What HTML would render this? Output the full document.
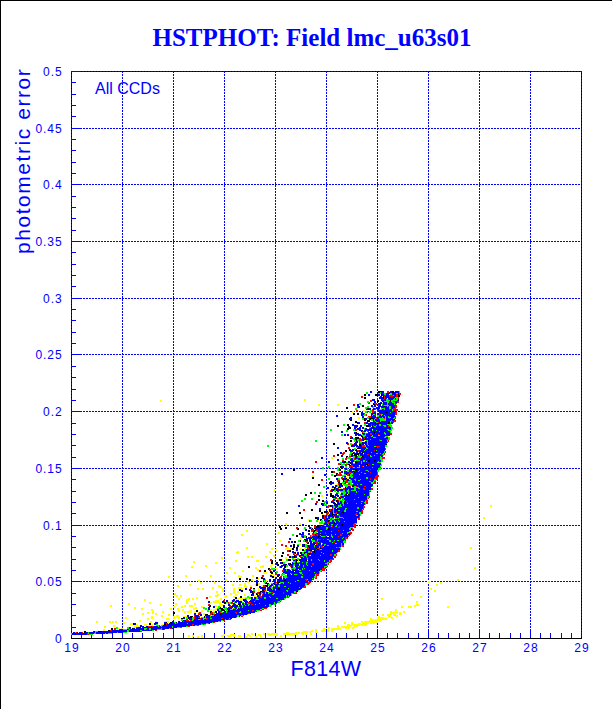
<!DOCTYPE html>
<html><head><meta charset="utf-8"><title>HSTPHOT</title>
<style>
html,body{margin:0;padding:0;background:#fff}
body{width:612px;height:709px;position:relative;overflow:hidden;font-family:"Liberation Sans",sans-serif;color:#00f}
.bt{position:absolute;left:0;top:0;width:612px;height:1px;background:#000}
.bl{position:absolute;left:0;top:0;width:1px;height:709px;background:#000}
.title{position:absolute;left:0;top:24px;width:624px;text-align:center;font-family:"Liberation Serif",serif;font-weight:bold;font-size:25px;line-height:28px;white-space:nowrap}
.yl{position:absolute;left:0;width:62.5px;text-align:right;font-size:12px;line-height:14px;letter-spacing:0.9px}
.xl{position:absolute;top:641px;width:42px;text-align:center;font-size:12px;line-height:14px;letter-spacing:1.2px}
.xt{position:absolute;left:226px;width:200px;top:657px;text-align:center;font-size:21.5px;letter-spacing:0.3px;line-height:24px}
.yt{position:absolute;left:0;top:0;transform-origin:0 0;transform:translate(10.5px,254px) rotate(-90deg);font-size:21px;line-height:24px;white-space:nowrap;letter-spacing:1.55px}
.all{position:absolute;left:95px;top:79px;font-size:16px;line-height:20px;white-space:nowrap}
</style></head><body>
<svg width="612" height="709" viewBox="0 0 612 709" shape-rendering="crispEdges" style="position:absolute;left:0;top:0"><path d="M122.5 71V639M173.5 71V639M224.5 71V639M275.5 71V639M326.5 71V639M377.5 71V639M428.5 71V639M479.5 71V639M530.5 71V639M71 128.5H582M71 184.5H582M71 241.5H582M71 298.5H582M71 354.5H582M71 411.5H582M71 468.5H582M71 525.5H582M71 581.5H582" stroke="#00f" stroke-width="1" stroke-dasharray="2 1" fill="none"/><path d="M71.5 639V71.5H581.5V639" stroke="#00f" fill="none"/><path d="M81 71.5H581" stroke="#000" stroke-dasharray="1 2" fill="none"/><path d="M71.5 73V638" stroke="#000" stroke-dasharray="1 2" fill="none"/><path d="M581.5 73V638" stroke="#000" stroke-dasharray="1 2" fill="none"/><path d="M81.5 639v-6M91.5 639v-6M102.5 639v-6M112.5 639v-6M122.5 639v-10M132.5 639v-6M142.5 639v-6M153.5 639v-6M163.5 639v-6M173.5 639v-10M183.5 639v-6M193.5 639v-6M204.5 639v-6M214.5 639v-6M224.5 639v-10M234.5 639v-6M244.5 639v-6M255.5 639v-6M265.5 639v-6M275.5 639v-10M285.5 639v-6M295.5 639v-6M306.5 639v-6M316.5 639v-6M326.5 639v-10M336.5 639v-6M346.5 639v-6M357.5 639v-6M367.5 639v-6M377.5 639v-10M387.5 639v-6M397.5 639v-6M408.5 639v-6M418.5 639v-6M428.5 639v-10M438.5 639v-6M448.5 639v-6M459.5 639v-6M469.5 639v-6M479.5 639v-10M489.5 639v-6M499.5 639v-6M510.5 639v-6M520.5 639v-6M530.5 639v-10M540.5 639v-6M550.5 639v-6M561.5 639v-6M571.5 639v-6M71 627.5h5M71 615.5h5M71 604.5h5M71 593.5h5M71 581.5h10M71 570.5h5M71 559.5h5M71 547.5h5M71 536.5h5M71 525.5h10M71 513.5h5M71 502.5h5M71 491.5h5M71 479.5h5M71 468.5h10M71 457.5h5M71 445.5h5M71 434.5h5M71 423.5h5M71 411.5h10M71 400.5h5M71 389.5h5M71 377.5h5M71 366.5h5M71 354.5h10M71 343.5h5M71 332.5h5M71 320.5h5M71 309.5h5M71 298.5h10M71 286.5h5M71 275.5h5M71 264.5h5M71 252.5h5M71 241.5h10M71 230.5h5M71 218.5h5M71 207.5h5M71 196.5h5M71 184.5h10M71 173.5h5M71 162.5h5M71 150.5h5M71 139.5h5M71 128.5h10M71 116.5h5M71 105.5h5M71 94.5h5M71 82.5h5" stroke="#00f" fill="none"/><path d="M71 638.5H582" stroke="#000" fill="none"/><g fill="none" stroke-width="1" transform="translate(0,0.5)" shape-rendering="crispEdges"><path stroke="#ff0" d="M399 397h1M304 399h2M160 400h2M304 400h2M160 401h2M318 404h2M337 404h2M396 404h1M318 405h2M337 405h2M363 410h2M352 411h2M363 411h2M352 412h2M358 417h2M358 418h2M361 434h1M388 436h1M364 440h1M387 445h1M387 446h1M385 447h1M359 449h2M352 452h1M331 457h2M331 458h2M359 465h1M327 466h1M327 467h1M312 475h2M312 476h2M346 476h1M346 477h3M347 478h2M341 479h1M337 483h1M346 483h1M336 484h2M342 484h1M343 485h1M331 487h1M331 488h2M340 488h2M274 489h2M274 490h2M329 491h1M329 492h2M321 495h2M321 496h2M334 501h1M490 505h2M490 506h2M327 509h2M327 510h2M322 514h2M328 514h1M327 517h1M483 517h2M483 518h2M308 519h2M323 519h1M308 520h1M318 520h1M285 523h2M299 523h2M285 524h2M299 524h2M319 524h2M353 527h1M303 528h1M303 529h2M246 530h2M246 531h2M278 532h2M278 533h2M241 534h2M241 535h2M300 537h2M300 538h2M279 540h2M279 541h2M266 543h2M299 543h2M266 544h2M299 544h2M246 547h2M287 547h2M304 547h1M470 547h2M246 548h2M271 548h2M285 548h4M290 548h2M299 548h2M304 548h2M470 548h2M271 549h2M275 549h2M285 549h2M290 549h2M299 549h2M275 550h2M295 550h1M313 550h1M237 551h2M269 551h2M295 551h4M236 552h3M269 552h2M236 553h2M292 553h1M273 555h2M310 555h1M247 556h2M251 556h2M265 556h2M273 556h2M221 557h2M247 557h2M251 557h2M265 557h2M285 557h2M221 558h2M285 558h2M294 558h2M282 559h1M235 560h2M256 560h3M282 560h1M298 560h1M193 561h2M235 561h2M256 561h3M284 561h2M297 561h2M193 562h2M215 562h2M285 562h1M215 563h2M271 564h2M205 565h2M262 565h2M270 565h2M288 565h1M191 566h2M205 566h2M260 566h4M270 566h2M191 567h2M229 567h2M255 567h2M260 567h4M271 567h2M474 567h2M229 568h2M255 568h2M276 568h2M474 568h2M257 569h2M276 569h2M242 570h2M257 570h2M242 571h2M272 571h1M226 572h2M234 572h2M263 572h4M226 573h2M234 573h2M263 573h4M270 574h4M291 574h1M185 575h2M210 575h2M238 575h2M252 575h2M261 575h1M272 575h4M168 576h2M185 576h2M210 576h2M238 576h4M252 576h2M261 576h1M274 576h2M168 577h2M239 577h3M271 577h1M258 578h1M225 579h2M251 579h2M256 579h3M457 579h2M198 580h2M225 580h2M251 580h2M266 580h1M457 580h2M198 581h2M247 581h2M266 581h1M276 581h1M428 581h2M200 582h2M214 582h2M247 582h2M263 582h1M273 582h1M428 582h2M440 582h2M200 583h2M214 583h2M244 583h2M258 583h2M263 583h2M440 583h2M189 584h2M232 584h2M239 584h2M244 584h2M255 584h1M258 584h2M436 584h2M177 585h2M189 585h2M218 585h2M232 585h2M239 585h2M244 585h2M250 585h2M255 585h1M261 585h2M436 585h2M177 586h2M218 586h4M244 586h3M250 586h2M261 586h2M212 587h2M220 587h2M238 587h4M245 587h2M197 588h2M202 588h2M212 588h2M222 588h2M233 588h2M238 588h5M258 588h2M430 588h2M197 589h2M202 589h2M222 589h2M233 589h2M241 589h2M258 589h2M266 589h1M275 589h1M430 589h2M222 590h2M233 590h2M258 590h2M266 590h1M434 590h2M216 591h2M222 591h2M233 591h2M237 591h2M258 591h2M434 591h2M216 592h2M233 592h2M237 592h2M174 593h2M230 593h2M233 593h2M174 594h2M217 594h2M230 594h2M235 594h2M244 594h2M258 594h1M261 594h1M411 594h2M176 595h2M180 595h2M215 595h4M225 595h2M235 595h2M244 595h2M254 595h2M411 595h2M176 596h2M180 596h2M209 596h2M215 596h3M224 596h3M233 596h2M254 596h3M420 596h2M196 597h2M209 597h2M224 597h2M233 597h2M239 597h1M244 597h3M420 597h2M178 598h2M188 598h2M192 598h2M196 598h2M220 598h2M237 598h8M247 598h2M253 598h1M381 598h2M144 599h2M178 599h2M186 599h4M192 599h2M220 599h2M235 599h4M241 599h2M248 599h2M381 599h2M144 600h2M186 600h3M215 600h4M231 600h1M235 600h1M240 600h2M186 601h2M213 601h7M231 601h1M416 601h2M149 602h2M186 602h2M210 602h2M213 602h4M218 602h3M416 602h2M128 603h2M149 603h2M175 603h2M186 603h2M194 603h2M210 603h2M219 603h2M226 603h2M235 603h2M128 604h2M160 604h2M175 604h2M194 604h2M219 604h4M232 604h1M236 604h2M241 604h1M416 604h3M110 605h2M160 605h2M184 605h2M189 605h4M214 605h3M219 605h4M414 605h5M110 606h2M173 606h2M181 606h2M184 606h2M189 606h4M201 606h2M215 606h2M220 606h1M401 606h2M408 606h4M414 606h2M447 606h2M134 607h2M173 607h2M181 607h2M195 607h2M201 607h2M205 607h1M401 607h2M408 607h4M447 607h2M134 608h2M141 608h2M170 608h2M177 608h2M193 608h4M215 608h2M223 608h1M232 608h1M237 608h1M141 609h2M151 609h2M170 609h2M177 609h2M182 609h2M193 609h2M207 609h1M210 609h2M213 609h4M395 609h2M151 610h3M178 610h2M182 610h2M189 610h3M201 610h2M210 610h2M213 610h3M225 610h1M395 610h2M152 611h2M162 611h2M178 611h2M184 611h2M187 611h5M194 611h2M201 611h2M213 611h2M222 611h2M390 611h2M394 611h2M403 611h2M147 612h2M152 612h2M162 612h2M184 612h2M187 612h2M190 612h2M194 612h2M198 612h1M201 612h1M390 612h8M399 612h2M403 612h2M142 613h2M147 613h2M152 613h2M155 613h2M184 613h2M201 613h1M203 613h2M390 613h4M396 613h2M399 613h3M142 614h2M155 614h2M168 614h2M203 614h2M248 614h1M382 614h2M387 614h5M393 614h3M399 614h3M161 615h2M168 615h2M176 615h3M199 615h1M211 615h1M382 615h2M387 615h4M393 615h5M151 616h2M161 616h2M173 616h2M176 616h3M183 616h4M189 616h1M200 616h1M378 616h2M388 616h3M396 616h2M125 617h2M151 617h2M173 617h2M178 617h2M185 617h1M377 617h7M388 617h2M391 617h2M125 618h2M147 618h2M151 618h2M166 618h4M173 618h2M178 618h2M185 618h1M370 618h2M377 618h10M391 618h2M147 619h2M166 619h4M184 619h2M188 619h1M370 619h4M375 619h12M139 620h2M189 620h1M369 620h13M96 621h2M109 621h2M112 621h2M115 621h2M139 621h2M150 621h2M155 621h2M164 621h5M180 621h2M361 621h2M364 621h14M379 621h2M96 622h2M109 622h2M112 622h2M115 622h2M123 622h2M150 622h2M167 622h2M177 622h1M215 622h1M344 622h2M351 622h2M361 622h17M123 623h2M130 623h3M168 623h1M344 623h2M351 623h2M358 623h3M362 623h7M370 623h5M130 624h3M136 624h2M144 624h3M151 624h2M162 624h2M347 624h3M351 624h2M354 624h13M113 625h2M134 625h4M139 625h1M144 625h3M150 625h3M337 625h2M347 625h6M354 625h6M361 625h6M104 626h2M113 626h2M134 626h6M145 626h1M337 626h2M341 626h10M353 626h2M356 626h2M104 627h2M132 627h4M328 627h2M337 627h3M341 627h9M352 627h3M118 628h2M121 628h2M135 628h1M323 628h2M328 628h2M331 628h10M345 628h2M348 628h2M352 628h2M103 629h2M117 629h2M315 629h2M323 629h3M327 629h2M331 629h10M103 630h2M311 630h2M315 630h2M321 630h5M327 630h2M331 630h2M303 631h5M309 631h4M315 631h3M321 631h5M327 631h2M331 631h2M286 632h3M295 632h2M298 632h2M301 632h7M309 632h2M315 632h3M251 633h2M263 633h2M267 633h3M271 633h7M283 633h14M298 633h2M301 633h3M305 633h2M310 633h2M223 634h2M230 634h5M247 634h2M251 634h2M258 634h3M263 634h2M267 634h11M283 634h14M302 634h2M305 634h2M310 634h2M188 635h2M192 635h2M201 635h2M221 635h4M227 635h8M238 635h3M247 635h4M258 635h3M268 635h4M275 635h3M280 635h2M188 636h2M192 636h2M197 636h2M201 636h2M221 636h2M227 636h4M233 636h2M238 636h3M245 636h2M249 636h2M255 636h2M260 636h2M280 636h2M197 637h2M201 637h2M245 637h2M255 637h2M260 637h2"/><path stroke="#000" d="M378 391h4M392 391h2M378 392h2M389 392h1M392 392h2M388 393h2M398 393h1M364 394h2M375 394h3M381 394h1M398 394h1M364 395h2M375 395h3M381 395h1M398 395h2M383 396h1M398 396h2M364 397h2M383 397h1M364 398h2M383 398h1M377 400h2M390 400h1M377 401h2M373 403h1M373 404h2M380 404h1M362 405h2M362 406h2M384 406h1M346 407h2M346 408h2M367 408h2M366 409h3M395 410h1M385 412h2M353 413h2M357 413h2M373 413h1M353 414h2M357 414h2M375 414h1M383 414h1M371 415h1M380 415h1M350 417h2M351 418h1M364 418h1M369 418h4M351 419h1M364 419h1M369 419h2M373 419h1M394 419h1M350 420h2M364 420h2M367 420h3M373 420h1M355 421h2M367 421h3M355 422h3M375 422h1M388 422h2M357 423h1M374 423h2M388 423h2M347 424h2M337 425h2M347 425h2M366 425h3M372 425h1M337 426h2M348 426h2M366 426h3M372 426h1M348 427h3M347 428h4M347 429h2M367 429h1M361 430h2M371 430h1M361 431h1M356 432h1M374 432h1M356 433h1M362 433h1M374 433h1M358 435h1M361 435h1M361 436h2M355 437h4M362 437h1M372 437h1M350 438h1M355 438h4M365 438h1M355 439h2M364 439h2M350 440h2M356 440h1M363 440h1M350 441h2M362 442h1M333 443h2M333 444h2M356 444h1M359 444h2M386 444h1M355 445h1M359 445h2M369 447h1M357 448h3M349 449h2M356 449h1M361 449h1M364 449h1M345 450h2M349 450h1M355 450h2M345 451h2M362 452h1M352 453h1M355 453h4M361 453h2M370 453h1M337 454h2M351 454h2M354 454h5M337 455h2M354 455h3M346 456h2M355 456h2M362 456h1M346 457h1M368 460h2M374 460h2M344 461h2M355 461h2M368 461h2M374 461h1M344 462h2M350 462h1M355 462h2M350 463h1M340 464h1M348 464h2M365 464h3M349 465h2M365 465h1M340 466h2M340 467h2M351 467h1M341 468h2M357 468h1M293 469h2M339 469h2M355 469h2M293 470h2M339 470h2M355 470h2M331 471h2M344 471h1M353 471h2M331 472h2M354 472h1M336 473h2M346 473h1M336 474h1M346 474h1M349 474h1M334 475h3M349 475h1M352 475h1M334 476h2M312 477h2M312 478h2M343 478h1M346 478h1M342 479h2M343 480h1M330 481h2M339 481h1M343 481h1M329 482h3M338 482h2M345 482h1M329 483h1M341 483h1M318 484h2M341 484h1M318 485h2M339 485h1M352 485h2M339 486h1M352 486h2M334 487h2M338 487h3M345 487h1M361 487h2M334 488h1M333 489h2M333 490h1M336 490h1M310 492h2M310 493h2M330 493h2M305 494h2M330 494h2M345 494h2M348 494h1M305 495h2M318 495h2M330 495h4M346 495h1M318 496h2M330 496h4M332 497h2M339 497h1M339 498h2M318 499h2M318 500h2M322 500h2M336 500h2M322 501h2M336 501h1M344 501h2M333 502h2M344 502h1M361 502h1M321 503h2M333 503h3M344 503h1M321 504h1M336 504h1M330 505h1M330 506h1M332 507h1M337 508h1M311 509h2M329 509h1M336 509h2M340 509h1M311 510h2M319 510h2M329 510h1M319 511h2M324 511h4M329 511h2M286 512h2M299 512h2M321 512h2M324 512h3M332 512h1M341 512h3M286 513h2M299 513h2M321 513h2M332 513h1M332 514h2M336 514h1M322 515h2M332 515h1M322 516h2M301 517h2M315 517h2M301 518h2M315 518h2M320 519h2M337 519h2M320 520h1M328 520h2M328 521h1M334 522h1M334 523h1M327 524h1M341 524h2M308 525h2M317 525h2M321 525h1M341 525h2M279 526h2M308 526h2M316 526h3M279 527h2M285 527h2M316 527h4M280 528h2M285 528h2M298 528h1M312 528h1M314 528h1M319 528h1M328 528h2M280 529h2M297 529h2M311 529h1M320 529h2M328 529h2M308 530h2M314 530h2M308 531h2M313 531h2M313 532h1M301 534h1M315 534h1M320 534h1M296 535h2M296 536h2M306 536h1M318 536h1M306 537h1M326 537h1M313 538h1M304 539h2M309 539h2M312 539h2M324 539h1M300 540h1M305 540h3M294 541h2M300 541h1M305 541h1M294 542h2M308 542h1M307 543h2M315 543h1M293 544h2M304 544h1M314 544h1M293 545h2M307 545h2M293 546h2M302 546h1M308 546h1M293 547h2M296 547h2M309 547h1M292 548h2M296 548h2M316 548h1M320 548h1M292 549h2M302 549h2M317 549h2M289 550h2M302 550h2M309 550h3M314 550h1M289 551h2M314 551h1M282 552h2M294 552h2M300 552h2M304 552h2M314 552h1M282 553h2M295 553h1M300 553h2M304 553h1M308 553h2M309 554h1M281 555h2M294 555h2M299 555h2M314 555h1M281 556h2M289 556h2M294 556h1M299 556h1M289 557h2M294 557h1M279 559h3M288 559h3M296 559h1M299 559h1M272 560h1M279 560h3M288 560h3M296 560h2M299 560h1M306 560h1M271 561h2M296 561h1M271 562h2M276 562h2M282 562h1M296 562h1M271 563h2M282 563h1M290 563h1M295 563h1M278 564h1M285 564h2M290 564h1M277 565h2M285 565h1M289 565h1M248 566h2M284 566h2M295 566h1M248 567h2M284 567h2M310 567h1M268 568h2M303 568h1M268 569h1M285 569h1M318 569h2M264 570h2M294 570h1M319 570h1M264 571h2M270 571h2M293 571h1M270 572h3M283 572h1M271 573h2M277 575h2M272 576h2M277 576h2M289 576h1M256 577h2M261 577h2M272 577h2M239 578h2M246 578h2M256 578h2M261 578h2M281 578h1M239 579h2M246 579h2M249 579h2M277 579h2M285 579h1M249 580h2M284 580h2M279 581h1M266 582h1M277 582h3M265 583h4M273 583h2M284 583h1M256 584h2M267 584h1M274 584h1M256 585h2M265 585h3M266 586h2M253 588h2M270 588h1M278 588h2M262 589h1M271 589h1M278 589h2M241 590h2M262 590h2M241 591h2M252 591h1M260 591h2M296 591h2M252 592h1M259 592h2M252 593h2M256 593h1M251 594h1M256 594h2M251 595h1M240 596h2M235 597h2M240 597h2M235 598h2M243 599h1M243 600h1M239 601h1M249 601h1M224 602h2M245 602h1M224 603h2M240 603h1M238 604h3M210 605h1M209 606h2M220 607h1M219 608h4M238 608h1M221 609h3M229 609h1M196 610h2M221 610h4M228 610h1M196 611h2M210 611h2M215 611h2M173 612h2M210 612h1M215 612h2M173 613h2M220 613h1M250 613h1M205 614h3M212 614h1M215 614h1M220 614h1M205 615h1M214 615h1M190 616h3M204 616h1M188 617h4M197 617h1M204 617h1M181 618h2M188 618h1M197 618h3M183 620h1M182 621h1M166 622h1M170 622h2M176 622h1M133 623h1M149 623h2M171 623h1M209 623h1M133 624h1M149 624h2M164 624h2M171 624h1M151 626h1M140 627h1M111 628h2M132 628h1M143 628h1M111 629h2M139 629h1M143 629h1M108 630h2M129 630h1M84 631h2M98 631h4M129 631h1M77 632h1M84 632h1M75 633h1M75 634h1"/><path stroke="#f00" d="M387 391h2M387 392h2M383 393h1M399 393h2M396 394h2M399 394h2M384 395h2M389 395h4M396 395h2M361 396h2M384 396h1M389 396h4M396 396h2M361 397h2M384 397h1M398 397h1M384 398h1M398 398h1M383 399h1M388 399h1M370 400h2M370 401h2M393 401h2M397 401h2M369 402h1M397 402h2M368 403h2M374 403h3M395 403h2M353 404h2M375 404h2M395 404h1M353 405h2M378 405h1M382 405h2M395 405h2M357 406h1M395 406h2M357 407h1M384 407h1M395 407h2M375 408h1M393 408h3M372 409h1M375 409h1M389 409h1M393 409h5M356 410h2M372 410h2M377 410h1M393 410h2M396 410h2M356 411h2M367 411h1M372 411h4M377 411h1M392 411h1M396 411h1M367 412h1M372 412h2M396 412h1M364 413h1M379 413h1M395 413h2M366 414h1M379 414h2M395 414h2M366 415h1M375 415h1M379 415h1M368 416h3M395 416h1M369 417h2M376 417h1M395 417h1M376 418h1M384 418h1M389 418h1M395 418h1M379 419h1M394 420h2M391 421h5M364 422h2M378 422h1M393 422h1M364 423h2M390 423h1M371 424h1M371 425h1M373 425h1M388 425h1M373 426h1M388 426h2M375 427h1M369 428h1M355 429h2M355 430h2M367 430h1M362 431h2M367 431h2M370 431h1M362 432h1M366 433h2M370 433h2M375 433h1M390 433h2M370 434h2M378 434h1M390 434h2M350 436h2M350 437h1M363 437h2M359 438h2M364 438h1M359 439h3M379 439h1M386 439h2M359 440h3M379 440h1M388 440h1M359 441h1M388 441h1M359 442h1M387 442h1M348 443h1M359 443h3M386 443h1M347 444h2M352 444h2M361 444h1M362 445h3M362 446h3M376 446h4M348 447h2M377 447h1M348 448h2M385 448h1M385 449h1M357 450h2M374 450h1M358 451h1M385 451h1M343 452h2M385 452h1M342 453h3M384 453h1M342 454h2M363 454h1M367 454h2M384 454h1M333 455h2M353 455h1M358 455h1M333 456h2M349 456h2M357 456h1M357 457h1M382 457h3M345 458h2M354 458h1M357 458h1M360 458h1M365 458h1M382 458h3M345 459h2M354 459h2M365 459h1M342 460h2M315 461h2M315 462h2M338 463h2M338 464h2M345 464h3M368 464h1M345 465h2M351 465h2M349 466h4M362 466h1M349 467h2M352 467h1M379 467h2M370 469h1M365 470h1M312 471h2M333 471h2M312 472h2M333 472h2M339 472h2M349 472h2M353 472h1M370 472h1M377 472h1M339 473h2M349 473h2M377 473h1M337 474h5M347 474h2M377 474h1M337 475h5M347 475h2M376 475h3M375 476h4M341 477h2M344 477h2M375 477h3M341 478h2M355 478h1M370 478h1M374 478h4M321 479h2M346 479h1M370 479h1M376 479h2M321 480h2M337 480h3M346 480h1M349 480h1M373 480h1M337 481h2M344 481h4M374 481h2M346 482h2M374 482h2M338 483h1M348 483h2M353 483h1M373 483h3M338 484h1M348 484h2M350 486h1M356 486h1M364 486h2M335 488h1M338 488h1M343 488h2M363 488h2M371 488h2M335 489h1M343 489h2M363 489h2M371 489h2M330 490h1M330 491h1M349 491h1M358 491h1M369 491h2M355 494h1M340 496h1M369 496h1M336 497h1M340 497h1M369 497h1M335 498h2M368 498h1M342 499h1M332 500h1M338 500h1M365 500h3M316 501h2M326 501h2M333 501h1M346 501h1M366 501h2M316 502h2M347 502h1M366 502h2M323 503h2M366 503h2M328 505h2M327 506h3M363 506h2M327 507h2M363 507h2M332 508h1M363 508h1M303 509h2M330 509h1M363 509h1M303 510h2M330 510h1M362 510h1M361 511h2M327 512h2M336 512h1M361 512h2M326 513h3M335 513h2M356 513h1M361 513h2M326 514h2M355 514h2M324 515h2M333 515h1M337 515h3M324 516h1M334 516h1M359 516h1M324 517h1M359 517h1M324 518h2M331 518h1M337 518h1M358 518h2M330 519h2M334 519h1M358 519h2M309 520h1M309 521h1M329 521h1M327 522h3M327 523h2M354 523h1M353 524h3M331 525h2M353 525h3M314 526h2M321 526h1M332 526h1M339 526h1M354 526h2M296 527h2M314 527h2M338 527h2M354 527h2M296 528h2M352 528h1M312 529h2M352 529h2M311 530h3M316 530h2M338 530h1M352 530h2M311 531h2M317 531h1M325 532h1M350 532h2M312 533h2M325 533h1M350 533h2M312 534h3M316 534h2M340 534h2M350 534h1M301 535h3M310 535h1M313 535h2M317 535h1M340 535h2M349 535h1M301 536h1M310 536h1M325 536h1M338 536h1M348 536h1M345 537h2M345 538h3M318 539h3M323 539h1M345 539h1M345 540h1M288 541h2M306 541h2M315 541h3M333 541h2M288 542h2M306 542h2M315 542h3M321 542h1M333 542h2M312 543h1M316 543h2M281 544h2M316 544h2M281 545h2M285 545h2M320 545h2M342 545h2M285 546h2M307 546h1M321 546h2M342 546h2M307 547h2M314 547h1M321 547h2M337 547h2M307 548h2M317 548h3M316 549h1M319 549h1M287 550h2M338 550h2M287 551h2M310 551h2M338 551h2M310 552h1M293 553h2M287 554h2M293 554h2M296 554h1M308 554h1M330 554h2M336 554h1M287 555h2M296 555h1M330 555h2M336 555h1M300 556h1M303 556h1M333 556h3M300 557h1M306 557h2M334 557h2M333 558h1M270 559h2M295 559h1M330 559h4M270 560h2M295 560h1M330 560h2M295 561h1M306 561h2M330 561h2M295 562h1M299 562h1M329 562h2M294 563h1M299 563h1M312 563h2M328 563h1M293 564h1M312 564h2M328 564h1M290 565h1M290 566h1M327 566h1M303 567h1M325 567h1M322 568h4M269 569h2M289 569h1M322 569h3M259 570h2M269 570h2M282 570h2M322 570h3M259 571h2M282 571h2M321 571h1M275 573h2M282 573h1M291 573h1M316 573h1M275 574h3M297 574h1M316 574h3M262 575h2M316 575h3M262 576h2M280 576h2M283 576h1M316 576h1M281 577h1M283 577h1M287 577h1M316 577h1M313 578h1M315 578h2M305 579h2M312 579h2M263 580h1M306 580h1M311 580h1M311 581h1M276 582h1M308 582h3M275 583h1M307 583h3M279 584h1M307 584h2M263 585h2M263 586h3M271 586h1M273 586h1M304 586h2M250 587h2M267 587h1M270 587h1M302 587h4M250 588h2M265 589h1M300 589h1M264 590h2M253 591h2M253 592h2M257 592h2M271 592h2M283 592h1M296 592h1M257 593h2M283 593h1M293 593h4M262 594h1M259 595h2M259 596h3M289 596h1M206 597h2M260 597h2M287 597h2M206 598h2M255 599h1M223 600h2M255 600h1M224 601h1M277 601h1M280 601h1M228 602h1M231 602h2M248 602h3M277 602h1M228 603h1M231 603h2M248 603h2M275 603h2M208 604h2M251 604h2M275 604h1M208 605h2M230 605h1M241 605h1M229 606h2M267 607h1M239 608h1M264 608h3M262 609h2M252 610h2M260 610h2M220 611h2M252 611h1M255 611h2M199 612h2M211 612h2M220 612h1M235 612h2M198 613h3M210 613h3M236 613h1M248 613h2M198 614h2M210 614h2M213 614h2M194 615h1M243 615h1M194 616h1M199 616h1M241 616h2M194 617h1M198 617h2M210 617h1M194 618h1M200 618h1M206 618h2M221 618h2M186 619h2M200 619h1M206 619h1M228 619h3M186 620h3M190 620h2M223 620h2M183 621h1M220 621h1M213 622h2M166 623h2M176 623h2M201 623h1M208 623h1M166 624h1M192 624h2M203 624h1M159 625h1M192 625h1M197 625h2M148 626h3M152 626h2M188 626h2M136 627h2M180 627h2M114 628h2M170 628h2M114 629h2M119 629h1M164 629h1M110 630h2M155 630h2M140 631h2M76 632h1M82 632h1M87 633h1M87 634h2"/><path stroke="#0f0" d="M399 391h1M366 392h2M380 392h1M399 392h1M366 393h2M378 393h3M384 393h2M390 393h2M396 393h2M384 394h2M390 394h2M393 395h1M395 397h3M394 398h1M396 398h2M386 399h2M393 399h2M396 399h2M386 400h4M391 400h6M367 401h2M384 401h5M391 401h2M367 402h2M387 402h2M392 402h3M359 403h2M382 403h1M387 403h1M394 403h1M359 404h2M382 404h1M387 404h1M394 404h1M384 405h5M367 406h2M373 406h1M387 406h1M389 406h2M365 407h4M372 407h2M389 407h2M355 408h2M365 408h2M381 408h4M389 408h2M355 409h2M379 409h3M384 409h1M392 409h1M370 410h2M392 410h1M365 411h2M369 411h3M365 412h2M369 412h2M390 412h1M364 414h2M373 414h2M381 414h2M363 415h3M372 415h1M377 415h2M381 415h1M384 415h1M377 416h2M385 416h1M388 416h1M367 417h2M382 417h1M385 417h1M388 417h3M394 417h1M362 418h2M367 418h2M375 418h1M379 418h5M385 418h1M393 418h2M362 419h2M371 419h2M374 419h1M380 419h6M371 420h2M374 420h1M380 420h6M391 420h1M375 421h1M380 421h1M390 421h1M376 422h2M390 422h1M343 424h2M364 424h2M379 424h2M387 424h4M343 425h2M364 425h2M376 425h1M379 425h2M383 425h3M389 425h3M374 426h2M384 426h2M390 426h2M369 427h2M391 427h2M364 428h1M391 428h2M330 429h2M353 429h2M364 429h1M387 429h2M391 429h1M330 430h2M346 430h2M353 430h2M372 430h1M376 430h1M388 430h4M346 431h2M379 431h1M390 431h1M363 432h2M384 432h1M390 432h1M365 433h1M384 433h2M341 434h2M362 434h1M365 434h1M385 434h1M341 435h2M362 435h4M372 435h1M378 435h2M363 436h2M371 436h2M385 436h3M367 437h1M373 437h3M384 437h2M388 437h2M353 438h2M388 438h2M353 439h2M357 439h2M370 439h1M388 439h2M315 440h2M354 440h2M357 440h2M366 440h2M380 440h2M387 440h1M315 441h2M354 441h2M360 441h2M367 441h1M387 441h1M360 442h2M367 442h1M350 443h2M367 443h1M350 444h2M367 444h1M267 445h2M365 445h1M368 445h1M385 445h2M267 446h2M365 446h1M374 446h2M385 446h2M356 447h2M366 447h1M354 448h2M366 448h2M354 449h2M365 449h1M364 450h1M376 450h1M384 451h1M350 452h2M361 452h1M371 452h1M384 452h1M350 453h2M376 453h2M380 453h1M383 453h1M349 454h2M359 454h1M382 454h2M349 455h2M359 455h1M370 455h1M374 455h1M383 455h1M353 456h2M358 456h4M370 456h2M380 456h1M347 457h4M353 457h2M358 457h3M380 457h2M342 458h2M347 458h4M353 458h1M380 458h2M342 459h2M353 459h1M356 459h2M380 459h3M354 460h1M356 460h4M363 460h2M381 460h2M354 461h1M361 461h1M363 461h2M366 461h1M378 461h1M381 461h2M340 462h2M346 462h2M361 462h1M377 462h4M340 463h2M343 463h2M346 463h4M353 463h2M361 463h1M341 464h4M372 464h2M381 464h1M341 465h2M366 465h1M380 465h2M328 466h2M345 466h2M359 466h1M363 466h1M380 466h1M322 467h2M328 467h2M337 467h2M345 467h2M353 467h2M357 467h3M372 467h1M322 468h2M337 468h2M347 468h1M378 468h3M337 469h2M344 469h1M347 469h1M378 469h3M337 470h2M344 470h2M347 470h2M353 470h2M359 470h1M366 470h2M377 470h2M347 471h2M358 471h1M368 471h1M377 471h2M361 472h1M351 473h2M364 473h2M331 474h2M344 474h2M350 474h3M359 474h1M331 475h2M342 475h4M350 475h2M342 476h2M349 476h4M351 477h2M366 477h2M328 478h2M338 478h2M366 478h2M328 479h2M338 479h2M350 479h1M354 479h2M360 479h1M374 479h2M344 480h2M350 480h2M355 480h1M358 480h2M374 480h2M348 481h4M369 481h2M373 481h1M342 482h3M348 482h4M371 482h3M342 483h2M350 483h2M371 483h2M343 484h5M350 484h3M357 484h1M360 484h2M337 485h2M344 485h8M323 486h2M337 486h2M345 486h3M354 486h2M372 486h1M323 487h2M346 487h1M352 487h7M354 488h2M358 488h2M348 489h1M354 489h2M334 490h2M343 490h2M347 490h2M351 490h5M369 490h2M334 491h2M340 491h5M347 491h2M356 491h1M314 492h2M319 492h2M336 492h3M341 492h5M348 492h1M356 492h1M369 492h1M314 493h2M319 493h2M338 493h1M343 493h3M348 493h1M369 493h1M340 494h1M343 494h2M364 494h1M369 494h1M340 495h4M369 495h1M367 496h2M358 497h1M367 497h2M304 498h2M311 498h2M333 498h2M337 498h2M341 498h3M367 498h1M304 499h2M311 499h2M335 499h1M337 499h4M343 499h1M354 499h1M367 499h1M301 500h2M335 500h1M339 500h6M301 501h2M324 501h2M339 501h1M342 501h1M361 501h2M365 501h1M324 502h2M339 502h1M342 502h2M364 502h2M342 503h2M347 503h1M356 503h1M361 503h1M365 503h1M324 504h3M340 504h1M343 504h1M365 504h1M324 505h3M333 505h1M338 505h3M343 505h1M333 506h2M338 506h4M333 507h2M337 507h2M357 507h2M333 508h1M345 508h2M357 508h2M333 509h1M345 509h1M362 509h1M333 510h1M338 510h2M344 510h2M333 511h1M344 511h2M356 511h2M333 512h1M359 512h2M333 513h2M359 513h2M338 514h1M360 514h1M327 515h1M356 515h2M360 515h1M327 516h1M339 516h1M330 517h2M339 517h4M330 518h1M332 518h2M335 518h2M338 518h1M343 518h1M357 518h1M328 519h2M332 519h2M310 520h2M316 520h2M321 520h2M330 520h2M334 520h1M338 520h1M310 521h2M316 521h2M321 521h2M324 521h1M330 521h2M334 521h2M339 521h1M344 521h1M319 522h4M324 522h1M335 522h1M319 523h5M355 523h2M323 524h1M328 524h1M331 524h2M337 524h1M324 525h1M336 525h1M331 526h1M335 526h2M304 527h2M311 527h1M326 527h2M350 527h3M304 528h2M311 528h1M326 528h2M349 528h2M326 529h1M349 529h2M320 530h2M343 530h1M315 531h2M331 531h1M349 531h2M314 532h3M347 532h3M314 533h2M320 533h1M342 533h1M347 533h1M292 534h2M331 534h1M335 534h1M292 535h2M304 535h2M311 535h2M320 535h1M326 535h1M331 535h1M348 535h1M304 536h2M311 536h1M321 536h4M331 536h2M304 537h2M332 537h1M343 537h1M312 538h1M342 538h1M317 539h1M327 539h2M298 540h2M303 540h2M311 540h4M317 540h1M329 540h2M334 540h1M337 540h2M344 540h1M298 541h2M303 541h2M312 541h3M329 541h2M343 541h3M318 542h1M332 542h1M343 542h3M322 543h1M335 543h2M341 543h1M297 544h2M305 544h2M324 544h2M341 544h1M305 545h2M314 545h1M324 545h1M327 545h2M341 545h1M305 546h2M314 546h1M319 546h1M323 546h1M341 546h1M305 547h2M319 547h1M336 547h1M339 547h2M340 548h1M305 549h1M320 549h2M340 549h1M304 550h2M332 550h1M304 551h2M308 551h2M332 551h1M302 552h2M308 552h2M311 552h1M321 552h1M337 552h1M302 553h2M305 553h2M323 553h1M336 553h1M304 554h3M334 554h2M297 555h2M304 555h3M309 555h1M320 555h1M334 555h2M291 556h1M301 556h2M306 556h1M291 557h1M303 557h1M292 558h2M297 558h2M307 558h1M286 559h2M292 559h3M297 559h2M307 559h1M311 559h1M318 559h1M286 560h2M311 560h1M319 560h1M324 560h1M329 560h1M293 561h2M324 561h1M329 561h1M283 562h2M293 562h2M297 562h2M302 562h1M306 562h2M327 562h2M283 563h2M306 563h1M325 563h3M294 564h1M306 564h1M327 564h1M286 565h2M293 565h2M299 565h1M303 565h1M307 565h1M327 565h1M279 566h1M286 566h2M293 566h1M298 566h1M303 566h1M311 566h1M324 566h3M279 567h1M293 567h3M324 567h1M271 568h4M291 568h5M302 568h1M304 568h1M271 569h4M286 569h1M291 569h1M294 569h1M302 569h1M286 570h1M299 570h2M309 570h1M320 570h2M276 571h2M319 571h2M276 572h2M299 572h3M314 572h1M319 572h1M283 573h2M290 573h1M300 573h2M319 573h1M281 574h4M294 574h3M302 574h1M315 574h1M281 575h2M285 575h2M315 575h1M284 576h3M301 576h2M314 576h2M284 577h3M301 577h2M314 577h2M285 578h1M312 578h1M265 579h1M282 579h1M307 579h1M264 580h2M297 580h2M264 581h2M295 581h1M308 581h1M264 582h2M280 582h4M288 582h1M271 583h2M276 583h1M280 583h1M283 583h1M290 583h1M305 583h2M268 584h2M273 584h1M305 584h2M268 585h2M273 585h1M278 585h2M305 585h1M274 586h1M278 586h2M284 586h2M271 587h2M299 587h1M271 588h2M288 588h1M253 589h2M272 589h1M253 590h2M275 590h1M286 590h2M298 590h1M265 591h2M287 591h1M294 591h2M261 592h1M265 592h1M268 592h3M294 592h2M261 593h2M265 593h1M268 593h1M273 593h2M291 593h2M272 594h2M291 594h1M286 595h1M288 595h1M291 595h1M247 596h2M269 596h1M286 596h1M288 596h1M247 597h4M256 597h2M264 597h2M270 597h1M286 597h1M245 598h2M249 598h2M256 598h2M264 598h2M276 598h2M284 598h2M246 599h1M256 599h3M284 599h1M280 600h2M234 601h1M254 601h1M278 601h2M226 602h2M229 602h2M234 602h1M242 602h2M274 602h1M278 602h2M229 603h2M244 603h1M247 603h1M259 603h1M274 603h1M244 604h1M248 604h2M255 604h1M269 604h2M273 604h2M242 605h1M245 605h1M248 605h1M265 605h1M269 605h3M218 606h2M238 606h1M242 606h1M269 606h2M203 607h2M218 607h2M225 607h2M237 607h3M242 607h1M203 608h4M217 608h2M224 608h3M233 608h2M262 608h2M205 609h2M219 609h2M224 609h3M230 609h3M236 609h1M260 609h2M207 610h2M219 610h2M226 610h2M248 610h1M256 610h4M207 611h2M226 611h1M240 611h1M213 612h2M221 612h2M226 612h1M239 612h2M213 613h2M247 614h1M210 615h1M212 615h2M237 615h2M241 615h2M205 616h1M210 616h1M237 616h2M186 617h2M192 617h2M201 617h3M205 617h1M236 617h1M186 618h2M192 618h2M203 618h3M210 618h2M229 618h1M181 619h2M192 619h2M198 619h2M203 619h1M225 619h1M181 620h2M192 620h1M221 620h2M218 621h2M174 622h2M212 622h1M175 623h1M187 623h1M206 623h2M156 624h2M201 624h2M204 624h2M156 625h3M161 625h2M195 625h2M158 626h1M161 626h1M172 626h1M186 626h2M116 627h2M127 627h2M172 627h1M177 627h3M116 628h2M127 628h2M144 628h3M149 628h2M161 628h1M169 628h1M123 629h4M129 629h1M144 629h2M149 629h2M157 629h5M127 630h2M140 630h2M152 630h2M95 631h3M127 631h2M75 632h1M88 632h1M95 632h1M117 632h1M123 632h4M71 633h1M88 633h1M94 633h2M105 633h1M108 633h4M71 634h1M89 634h4"/><path stroke="#00f" d="M370 391h2M382 391h2M390 391h2M395 391h4M370 392h2M381 392h3M390 392h2M394 392h5M381 393h2M386 393h2M392 393h4M368 394h2M378 394h2M382 394h2M386 394h3M392 394h4M368 395h2M378 395h2M382 395h2M386 395h3M394 395h2M380 396h2M385 396h4M393 396h3M379 397h4M385 397h10M379 398h4M385 398h2M388 398h6M395 398h1M372 399h3M381 399h2M384 399h2M389 399h4M395 399h1M398 399h1M372 400h3M381 400h5M397 400h2M374 401h2M382 401h2M389 401h2M395 401h2M374 402h2M380 402h2M383 402h4M389 402h3M395 402h2M378 403h4M383 403h4M388 403h6M357 404h2M378 404h2M383 404h4M388 404h6M357 405h2M371 405h2M374 405h2M379 405h2M389 405h6M358 406h2M371 406h2M374 406h2M378 406h6M385 406h2M388 406h1M391 406h4M358 407h2M376 407h4M381 407h3M385 407h4M391 407h4M369 408h2M373 408h2M376 408h4M385 408h4M391 408h2M369 409h2M373 409h2M377 409h2M382 409h2M385 409h4M390 409h2M378 410h14M378 411h14M393 411h3M361 412h2M374 412h2M379 412h6M387 412h3M391 412h5M361 413h3M371 413h2M374 413h2M377 413h2M380 413h15M361 414h3M371 414h2M377 414h2M384 414h11M336 415h2M361 415h2M373 415h2M382 415h2M385 415h10M336 416h2M362 416h2M371 416h5M379 416h6M386 416h2M389 416h6M362 417h2M371 417h5M377 417h5M383 417h2M386 417h2M391 417h3M349 418h2M365 418h2M373 418h2M377 418h2M386 418h3M390 418h3M349 419h2M365 419h2M375 419h4M386 419h8M375 420h5M386 420h5M392 420h2M373 421h2M376 421h4M381 421h9M358 422h2M366 422h2M370 422h5M379 422h9M391 422h2M358 423h2M366 423h8M376 423h12M391 423h2M352 424h2M368 424h3M372 424h7M381 424h6M352 425h6M360 425h2M369 425h2M374 425h2M377 425h2M381 425h2M386 425h2M354 426h4M360 426h2M369 426h2M376 426h8M386 426h2M354 427h3M359 427h2M362 427h2M371 427h4M376 427h15M354 428h2M357 428h4M362 428h2M365 428h2M370 428h21M357 429h4M365 429h2M368 429h4M373 429h14M389 429h2M359 430h2M364 430h3M368 430h3M373 430h3M377 430h11M341 431h2M364 431h2M371 431h8M380 431h10M341 432h2M354 432h2M368 432h6M375 432h9M385 432h5M354 433h2M357 433h2M363 433h2M368 433h2M372 433h2M376 433h8M386 433h4M344 434h2M347 434h2M355 434h6M363 434h2M366 434h4M372 434h6M379 434h6M386 434h4M344 435h2M347 435h2M355 435h2M359 435h2M366 435h6M373 435h5M380 435h10M365 436h6M373 436h12M351 437h2M365 437h2M368 437h4M376 437h8M386 437h2M351 438h2M362 438h2M366 438h22M362 439h2M366 439h4M371 439h8M380 439h6M362 440h1M368 440h11M382 440h5M356 441h2M365 441h2M368 441h19M346 442h2M355 442h3M363 442h4M368 442h19M346 443h2M354 443h3M362 443h5M368 443h18M354 444h2M362 444h2M365 444h2M368 444h18M351 445h4M356 445h2M361 445h1M366 445h2M369 445h16M351 446h4M356 446h6M366 446h8M380 446h5M337 447h2M358 447h8M367 447h2M370 447h7M378 447h7M337 448h2M360 448h6M368 448h17M352 449h2M362 449h2M366 449h19M350 450h4M359 450h5M365 450h9M375 450h1M377 450h8M350 451h3M356 451h2M359 451h25M340 452h2M353 452h2M356 452h2M359 452h2M363 452h8M372 452h12M340 453h2M353 453h2M359 453h2M364 453h6M371 453h5M378 453h2M381 453h2M360 454h3M364 454h3M369 454h13M341 455h2M351 455h2M360 455h10M371 455h3M375 455h8M341 456h2M351 456h2M363 456h7M372 456h8M381 456h2M321 457h2M355 457h2M361 457h19M321 458h2M351 458h2M355 458h2M358 458h2M361 458h4M366 458h14M337 459h2M350 459h3M358 459h7M366 459h14M337 460h2M350 460h4M360 460h3M365 460h3M370 460h4M376 460h5M328 461h2M342 461h2M348 461h2M351 461h3M357 461h4M362 461h1M365 461h1M367 461h1M370 461h4M375 461h3M379 461h2M328 462h2M342 462h2M348 462h2M351 462h2M357 462h4M362 462h15M351 463h2M355 463h6M362 463h19M351 464h14M369 464h3M374 464h7M353 465h6M360 465h5M367 465h13M342 466h2M353 466h6M360 466h2M364 466h16M342 467h2M355 467h2M360 467h12M373 467h6M345 468h2M350 468h7M358 468h20M345 469h2M349 469h6M357 469h13M371 469h7M349 470h3M357 470h2M360 470h5M368 470h9M341 471h2M345 471h2M349 471h4M355 471h3M359 471h9M369 471h8M341 472h2M344 472h5M351 472h2M355 472h6M362 472h8M371 472h6M281 473h2M344 473h2M347 473h2M353 473h11M366 473h11M281 474h2M324 474h2M353 474h6M360 474h17M324 475h2M353 475h23M344 476h2M353 476h22M349 477h2M353 477h13M368 477h7M336 478h2M344 478h2M349 478h6M356 478h10M368 478h2M371 478h3M336 479h2M344 479h2M347 479h2M351 479h3M356 479h4M361 479h9M371 479h3M347 480h2M352 480h3M356 480h2M360 480h13M352 481h17M371 481h2M332 482h2M352 482h19M330 483h4M339 483h2M344 483h2M354 483h17M330 484h2M339 484h2M353 484h4M358 484h2M362 484h11M335 485h2M340 485h3M354 485h19M332 486h2M335 486h2M340 486h3M348 486h2M357 486h7M366 486h6M327 487h2M332 487h2M347 487h4M359 487h2M363 487h8M327 488h2M336 488h2M345 488h9M356 488h2M360 488h3M365 488h6M331 489h2M336 489h7M345 489h3M349 489h5M356 489h7M365 489h6M331 490h2M337 490h6M345 490h2M349 490h2M356 490h13M331 491h2M337 491h2M345 491h2M350 491h6M357 491h1M359 491h10M346 492h2M349 492h7M357 492h12M336 493h2M341 493h2M346 493h2M349 493h20M326 494h2M335 494h3M341 494h2M349 494h6M356 494h8M365 494h4M326 495h2M335 495h4M344 495h2M347 495h22M334 496h2M337 496h2M341 496h26M334 497h2M341 497h3M345 497h13M359 497h8M344 498h23M333 499h2M344 499h10M355 499h12M333 500h2M345 500h20M331 501h2M337 501h2M340 501h2M347 501h14M363 501h2M326 502h2M331 502h2M337 502h2M340 502h2M345 502h2M348 502h13M362 502h2M315 503h2M326 503h2M337 503h5M345 503h2M348 503h8M357 503h4M362 503h3M315 504h2M322 504h2M334 504h2M337 504h3M341 504h2M344 504h21M298 505h2M322 505h2M331 505h2M334 505h4M341 505h2M344 505h20M298 506h2M331 506h2M335 506h3M342 506h21M335 507h2M339 507h18M359 507h4M319 508h2M334 508h2M338 508h7M347 508h10M359 508h4M319 509h2M331 509h2M334 509h2M338 509h2M341 509h4M346 509h16M331 510h2M334 510h4M340 510h4M346 510h16M331 511h2M334 511h10M346 511h10M358 511h3M330 512h2M334 512h2M337 512h4M344 512h15M330 513h2M337 513h19M357 513h2M329 514h3M334 514h2M339 514h16M357 514h3M328 515h4M334 515h3M340 515h16M358 515h2M325 516h2M328 516h6M335 516h4M340 516h19M317 517h2M322 517h2M325 517h2M328 517h2M332 517h2M335 517h4M343 517h16M317 518h2M322 518h2M326 518h4M339 518h4M344 518h13M317 519h2M324 519h4M335 519h2M339 519h18M324 520h4M332 520h2M335 520h3M339 520h18M325 521h3M332 521h2M336 521h3M340 521h4M345 521h12M325 522h2M330 522h4M336 522h21M324 523h3M329 523h5M335 523h19M302 524h2M324 524h3M329 524h2M333 524h4M338 524h3M343 524h10M302 525h2M319 525h2M322 525h2M326 525h5M333 525h3M337 525h4M343 525h10M319 526h2M322 526h9M333 526h2M337 526h2M340 526h14M309 527h2M320 527h6M328 527h10M340 527h10M309 528h2M315 528h4M320 528h6M330 528h19M351 528h1M305 529h2M315 529h5M322 529h4M327 529h1M330 529h19M351 529h1M305 530h2M318 530h2M322 530h16M339 530h4M344 530h7M318 531h13M332 531h17M302 532h2M318 532h7M326 532h21M299 533h2M302 533h2M308 533h2M316 533h4M321 533h4M326 533h16M343 533h4M348 533h2M299 534h2M302 534h2M308 534h2M318 534h2M321 534h10M332 534h3M336 534h4M342 534h8M315 535h2M318 535h2M321 535h5M327 535h4M332 535h8M342 535h6M302 536h2M312 536h6M319 536h2M329 536h2M333 536h5M339 536h9M302 537h2M308 537h18M327 537h5M333 537h10M344 537h1M347 537h1M289 538h2M306 538h6M314 538h28M343 538h2M289 539h2M306 539h2M314 539h3M321 539h2M325 539h2M329 539h16M309 540h2M315 540h2M318 540h11M331 540h3M335 540h2M339 540h5M291 541h2M309 541h3M318 541h11M331 541h2M335 541h8M291 542h2M310 542h2M313 542h2M319 542h2M322 542h10M335 542h8M310 543h2M313 543h2M318 543h3M323 543h12M337 543h4M342 543h2M302 544h2M310 544h4M318 544h3M322 544h2M326 544h15M342 544h2M290 545h2M297 545h2M302 545h3M309 545h5M315 545h5M322 545h2M325 545h2M329 545h12M290 546h2M297 546h2M303 546h2M309 546h5M315 546h4M320 546h1M324 546h17M310 547h4M315 547h4M320 547h1M323 547h13M309 548h7M321 548h19M296 549h2M306 549h10M322 549h18M296 550h2M306 550h3M315 550h17M333 550h5M292 551h2M306 551h2M312 551h2M315 551h17M333 551h5M292 552h2M297 552h2M306 552h2M312 552h2M315 552h6M322 552h15M297 553h2M307 553h1M310 553h13M324 553h12M297 554h2M301 554h3M307 554h1M310 554h20M332 554h2M301 555h3M307 555h2M311 555h3M315 555h5M321 555h9M332 555h2M292 556h2M295 556h2M304 556h2M307 556h26M292 557h2M295 557h2M301 557h2M304 557h2M308 557h25M301 558h6M308 558h25M300 559h7M308 559h3M312 559h6M319 559h11M293 560h2M300 560h6M308 560h3M312 560h7M320 560h4M325 560h4M300 561h6M308 561h16M325 561h4M280 562h2M292 562h1M300 562h2M303 562h3M308 562h19M276 563h2M280 563h2M288 563h2M292 563h2M296 563h3M300 563h6M307 563h5M314 563h11M276 564h2M283 564h2M288 564h2M291 564h2M295 564h4M300 564h6M307 564h5M314 564h13M281 565h4M291 565h2M295 565h4M300 565h3M304 565h3M308 565h19M280 566h3M291 566h2M296 566h2M299 566h4M304 566h7M312 566h12M280 567h2M291 567h2M296 567h7M304 567h6M311 567h13M283 568h2M296 568h6M305 568h17M283 569h2M287 569h2M292 569h2M295 569h3M299 569h3M303 569h15M320 569h2M273 570h2M284 570h2M287 570h4M292 570h2M295 570h4M301 570h8M310 570h9M273 571h2M284 571h9M295 571h24M284 572h15M302 572h12M315 572h4M285 573h5M292 573h8M302 573h14M317 573h2M278 574h2M287 574h4M292 574h2M298 574h4M303 574h12M270 575h2M279 575h1M287 575h28M270 576h2M287 576h2M290 576h11M303 576h11M275 577h2M279 577h2M288 577h13M303 577h11M263 578h2M275 578h2M279 578h2M283 578h2M286 578h26M263 579h2M269 579h2M273 579h3M279 579h3M283 579h2M286 579h19M308 579h4M256 580h2M269 580h2M273 580h3M277 580h7M286 580h11M299 580h7M307 580h4M256 581h2M274 581h2M277 581h2M280 581h15M296 581h12M309 581h2M256 582h2M274 582h2M284 582h4M289 582h19M256 583h2M277 583h2M281 583h2M285 583h5M291 583h14M271 584h2M275 584h4M280 584h25M270 585h3M275 585h3M280 585h25M259 586h2M269 586h2M275 586h3M280 586h4M286 586h18M259 587h7M268 587h2M273 587h26M300 587h2M245 588h2M260 588h6M267 588h3M273 588h5M280 588h8M289 588h13M239 589h2M245 589h2M249 589h2M263 589h2M267 589h4M273 589h2M276 589h2M280 589h20M239 590h2M249 590h3M267 590h8M276 590h10M288 590h10M250 591h2M262 591h3M269 591h18M288 591h6M250 592h2M262 592h3M266 592h2M273 592h10M284 592h10M259 593h2M263 593h2M266 593h2M269 593h4M275 593h8M284 593h7M252 594h2M259 594h2M263 594h9M274 594h17M252 595h2M257 595h2M262 595h24M287 595h1M289 595h2M257 596h2M262 596h7M270 596h16M287 596h1M251 597h2M254 597h2M258 597h2M262 597h2M266 597h4M271 597h15M251 598h2M254 598h2M258 598h6M266 598h10M278 598h6M233 599h2M244 599h2M251 599h4M259 599h25M226 600h2M232 600h3M236 600h3M244 600h3M250 600h5M256 600h24M208 601h2M222 601h2M226 601h2M232 601h2M235 601h4M240 601h2M244 601h4M250 601h4M255 601h22M208 602h2M222 602h2M235 602h2M238 602h4M246 602h2M251 602h23M275 602h2M233 603h2M238 603h2M242 603h2M245 603h2M250 603h9M260 603h14M228 604h2M233 604h3M242 604h2M245 604h3M250 604h1M253 604h2M256 604h13M271 604h2M223 605h2M228 605h2M232 605h6M239 605h2M243 605h2M246 605h2M249 605h16M266 605h3M213 606h2M223 606h2M231 606h7M239 606h3M243 606h26M208 607h2M213 607h2M223 607h2M228 607h5M234 607h3M240 607h2M243 607h24M208 608h2M227 608h5M235 608h2M240 608h22M208 609h2M217 609h2M227 609h2M233 609h3M237 609h23M217 610h2M229 610h19M249 610h3M254 610h2M218 611h2M224 611h2M227 611h13M241 611h11M253 611h2M218 612h2M223 612h3M227 612h8M237 612h2M241 612h14M194 613h2M216 613h4M221 613h15M237 613h11M194 614h2M200 614h2M216 614h4M221 614h26M187 615h2M195 615h4M200 615h2M206 615h4M215 615h22M239 615h2M187 616h2M195 616h4M206 616h4M211 616h26M239 616h1M183 617h2M195 617h2M206 617h4M211 617h25M183 618h2M189 618h3M195 618h2M201 618h2M208 618h2M212 618h9M223 618h6M230 618h2M189 619h3M194 619h4M201 619h2M204 619h2M207 619h18M226 619h2M184 620h2M193 620h28M172 621h2M178 621h2M184 621h34M155 622h3M164 622h2M172 622h2M178 622h34M134 623h2M154 623h4M164 623h2M169 623h2M172 623h3M178 623h9M188 623h13M202 623h4M134 624h2M154 624h2M167 624h4M172 624h20M194 624h7M140 625h2M163 625h29M193 625h2M140 626h4M146 626h2M154 626h4M159 626h2M162 626h10M173 626h13M129 627h2M138 627h2M142 627h30M173 627h4M129 628h2M133 628h2M136 628h7M147 628h2M151 628h10M162 628h7M172 628h2M120 629h3M127 629h2M130 629h9M140 629h3M146 629h3M151 629h6M162 629h2M112 630h15M130 630h10M142 630h10M93 631h2M102 631h25M130 631h10M73 632h2M79 632h3M85 632h3M89 632h6M96 632h21M118 632h5M72 633h3M76 633h11M89 633h5M96 633h9M106 633h2M72 634h3M76 634h11"/></g></svg>
<div class="bt"></div><div class="bl"></div>
<div class="title">HSTPHOT: Field lmc_u63s01</div>
<div class="all">All CCDs</div>
<div class="yl" style="top:65px">0.5</div><div class="yl" style="top:122px">0.45</div><div class="yl" style="top:178px">0.4</div><div class="yl" style="top:235px">0.35</div><div class="yl" style="top:292px">0.3</div><div class="yl" style="top:348px">0.25</div><div class="yl" style="top:405px">0.2</div><div class="yl" style="top:462px">0.15</div><div class="yl" style="top:519px">0.1</div><div class="yl" style="top:575px">0.05</div><div class="yl" style="top:632px">0</div><div class="xl" style="left:51px">19</div><div class="xl" style="left:102px">20</div><div class="xl" style="left:153px">21</div><div class="xl" style="left:204px">22</div><div class="xl" style="left:255px">23</div><div class="xl" style="left:306px">24</div><div class="xl" style="left:357px">25</div><div class="xl" style="left:408px">26</div><div class="xl" style="left:459px">27</div><div class="xl" style="left:510px">28</div><div class="xl" style="left:561px">29</div>
<div class="xt">F814W</div>
<div class="yt">photometric error</div>
</body></html>
